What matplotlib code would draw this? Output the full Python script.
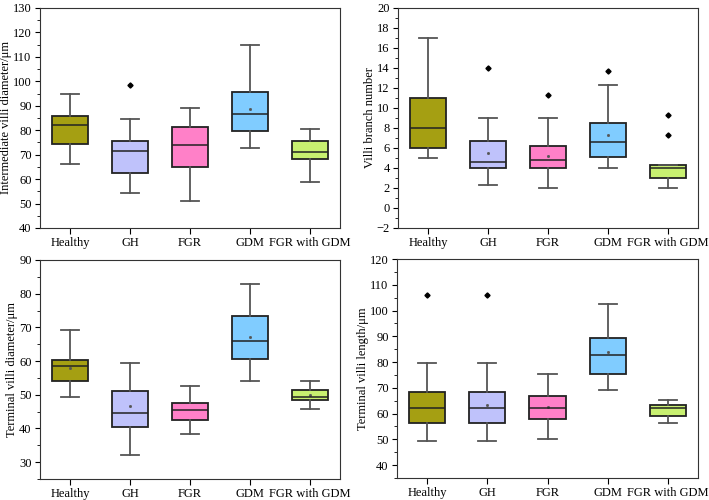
import matplotlib.pyplot as plt
from matplotlib.ticker import MultipleLocator

plt.rcParams['font.family'] = ['Liberation Serif', 'DejaVu Serif']

GROUPS = ['Healthy', 'GH', 'FGR', 'GDM', 'FGR with GDM']
COLORS = ['#a59f12', '#bfc2fb', '#ff80c8', '#80ccff', '#c8f070']

# each row: whislo, q1, med, q3, whishi
INTER = [[66, 74.5, 82.3, 86, 95],
         [54.3, 62.7, 71.7, 75.7, 84.7],
         [51, 65, 73.8, 81.2, 89],
         [72.7, 79.8, 86.5, 95.8, 115],
         [58.8, 68.2, 71, 75.5, 80.3]]
INTER_OUT = [[], [98.5], [], [], []]
INTER_MEAN = [None, None, None, 88.7, None]

BRANCH = [[5, 6, 8, 11, 17],
          [2.35, 4, 4.65, 6.7, 9],
          [2, 4, 4.85, 6.2, 9],
          [4, 5.15, 6.65, 8.5, 12.3],
          [2, 3, 4.05, 4.35, 4.35]]
BRANCH_OUT = [[], [14], [11.3], [13.7], [9.3, 7.3]]
BRANCH_MEAN = [None, 5.5, 5.2, 7.3, None]

TDIAM = [[49.3, 54, 58.5, 60.4, 69.3],
         [32.2, 40.5, 44.7, 51.2, 59.4],
         [38.3, 42.6, 45.4, 47.7, 52.6],
         [54, 60.5, 66, 73.5, 83],
         [45.8, 48.5, 49.3, 51.4, 54]]
TDIAM_OUT = [[], [], [], [], []]
TDIAM_MEAN = [57.8, 46.8, None, 67, 50]

TLEN = [[49.5, 56.3, 62, 68.4, 79.7],
        [49.5, 56.3, 62, 68.4, 79.7],
        [50, 58, 62.2, 66.8, 75.5],
        [69.3, 75.5, 82.7, 89.4, 102.6],
        [56.5, 59, 62, 63.4, 65.4]]
TLEN_OUT = [[106], [106], [], [], []]
TLEN_MEAN = [None, 63.5, 62.5, 83.8, None]


def panel(ax, data, outs, means, ylabel, ylim, major, minor):
    stats = []
    for g, d, o in zip(GROUPS, data, outs):
        stats.append({'label': g, 'whislo': d[0], 'q1': d[1], 'med': d[2],
                      'q3': d[3], 'whishi': d[4], 'fliers': o})
    bp = ax.bxp(stats, positions=range(1, 6), widths=0.6, patch_artist=True,
                boxprops=dict(edgecolor='#222222', linewidth=1.3),
                medianprops=dict(color='#222222', linewidth=1.1),
                whiskerprops=dict(color='#555555', linewidth=1.3),
                capprops=dict(color='#555555', linewidth=1.3),
                capwidths=0.3,
                flierprops=dict(marker='D', markersize=2.6, markerfacecolor='black',
                                markeredgecolor='black'))
    for patch, c in zip(bp['boxes'], COLORS):
        patch.set_facecolor(c)
    for i, m in enumerate(means):
        if m is not None:
            ax.plot(i + 1, m, 's', color='#555555', markersize=1.0)
    ax.set_xlim(0.5, 5.5)
    ax.set_ylim(*ylim)
    ax.yaxis.set_major_locator(MultipleLocator(major))
    ax.yaxis.set_minor_locator(MultipleLocator(minor))
    ax.tick_params(axis='both', direction='out', labelsize=9, pad=2.5)
    ax.tick_params(axis='x', length=4)
    ax.tick_params(axis='y', which='minor', length=2)
    ax.set_ylabel(ylabel, fontsize=9, labelpad=0.5)
    for s in ax.spines.values():
        s.set_color('#333333')


fig = plt.figure(figsize=(7.09, 5.0), dpi=100)
ax1 = fig.add_axes([40 / 709, 1 - 228 / 500, 300 / 709, 220 / 500])
ax2 = fig.add_axes([398 / 709, 1 - 228 / 500, 300 / 709, 220 / 500])
ax3 = fig.add_axes([40 / 709, 1 - 479 / 500, 300 / 709, 219 / 500])
ax4 = fig.add_axes([397 / 709, 1 - 478 / 500, 301 / 709, 219 / 500])

panel(ax1, INTER, INTER_OUT, INTER_MEAN, 'Intermediate villi diameter/\u03bcm', (40, 130), 10, 5)
panel(ax2, BRANCH, BRANCH_OUT, BRANCH_MEAN, 'Villi branch number', (-2, 20), 2, 1)
panel(ax3, TDIAM, TDIAM_OUT, TDIAM_MEAN, 'Terminal villi diameter/\u03bcm', (25, 90), 10, 5)
panel(ax4, TLEN, TLEN_OUT, TLEN_MEAN, 'Terminal villi length/\u03bcm', (35, 120), 10, 5)

fig.savefig('out.png', dpi=100)
